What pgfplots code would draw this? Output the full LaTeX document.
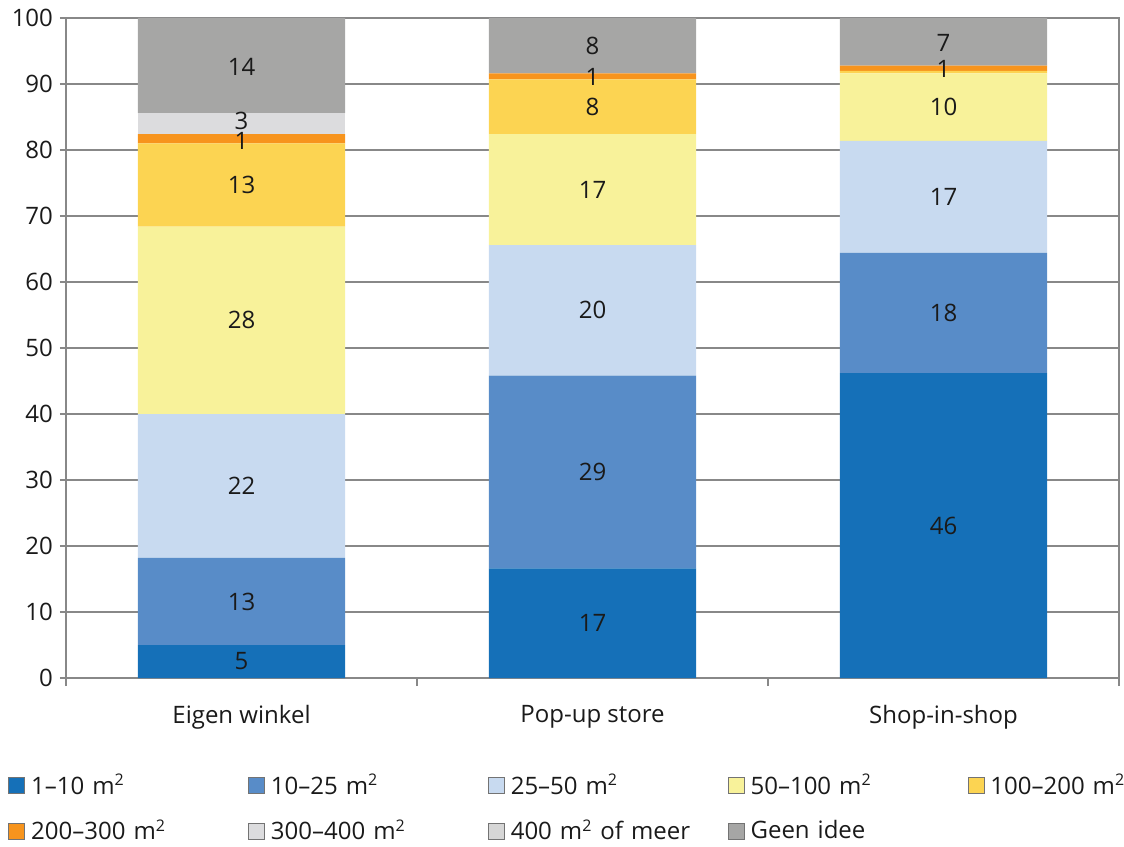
\documentclass[border=0pt]{standalone}
\usepackage{fontspec}
\setmainfont{Open Sans}
\usepackage{pgfplots}
\usepackage{pgfplotstable}
\pgfplotsset{compat=1.18}
\definecolor{cA}{HTML}{1570B8}
\definecolor{cB}{HTML}{588CC8}
\definecolor{cC}{HTML}{C8DAF0}
\definecolor{cD}{HTML}{F8F29A}
\definecolor{cE}{HTML}{FCD452}
\definecolor{cF}{HTML}{F7941D}
\definecolor{cG}{HTML}{DCDCDE}
\definecolor{cH}{HTML}{D6D6D6}
\definecolor{cI}{HTML}{A6A6A5}
\definecolor{axgray}{HTML}{888888}
\definecolor{txt}{HTML}{1A1A1A}
\newcommand{\sq}{\textsuperscript{\fontsize{8}{9}\selectfont 2}}
\pgfplotsset{mybar/.style={fill=#1, draw=none,
  legend image code/.code={\draw[fill=#1, draw=black!55, line width=0.4pt] (0pt,-4pt) rectangle (8pt,4pt);}}}
\pgfplotstableread{
x s1 s2 s3 s4 s5 s6 s7 s8 s9
0.5 5.0 13.2 21.8 28.4 12.6 1.4 3.2 0 14.4
1.5 16.6 29.2 19.8 16.8 8.3 0.9 0 0 8.4
2.5 46.2 18.2 17.0 10.2 0.4 0.8 0 0 7.2
}\datatable
\pgfplotstableread{
x y l
0.5 2.5 5
0.5 11.6 13
0.5 29.1 22
0.5 54.2 28
0.5 74.7 13
0.5 81.4 1
0.5 84.4 3
0.5 92.6 14
1.5 8.3 17
1.5 31.2 29
1.5 55.7 20
1.5 74.0 17
1.5 86.55 8
1.5 91.0 1
1.5 95.8 8
2.5 23.1 46
2.5 55.3 18
2.5 72.9 17
2.5 86.5 10
2.5 92.3 1
2.5 96.2 7
}\labeltable
\begin{document}
\begin{tikzpicture}[font=\fontsize{12}{14}\selectfont, text=txt]
\begin{axis}[name=ax, scale only axis, width=526.5pt, height=330pt,
  ybar stacked, bar width=0.59,
  xmin=0, xmax=3, ymin=0, ymax=100,
  axis line style={draw=axgray, line width=1pt},
  tick align=outside, tick pos=left,
  ytick={0,10,...,100}, major tick length=3pt,
  ytick style={draw=axgray, line width=1pt},
  ymajorgrids, grid style={draw=axgray, line width=0.75pt},
  xtick={0.5,1.5,2.5}, xticklabels={Eigen winkel, Pop-up store, Shop-in-shop},
  xtick style={draw=none},
  xticklabel style={yshift=-7pt},
  extra x ticks={0,1,2,3}, extra x tick labels={},
  extra x tick style={major tick length=4pt, xtick style={draw=axgray, line width=1pt}},
  /pgf/number format/assume math mode=true,
  legend style={at={(-0.0551,-0.139)}, anchor=north west, draw=none, fill=none,
    inner sep=0pt, legend columns=5, row sep=7pt,
    nodes={text width=105.5pt, align=left, inner xsep=3pt, inner ysep=2pt, text=txt},
    /tikz/every even column/.append style={column sep=0pt}},
]
\addplot[mybar=cA] table[x=x,y=s1]{\datatable};
\addlegendentry{1--10 m\sq}
\addplot[mybar=cB] table[x=x,y=s2]{\datatable};
\addlegendentry{10--25 m\sq}
\addplot[mybar=cC] table[x=x,y=s3]{\datatable};
\addlegendentry{25--50 m\sq}
\addplot[mybar=cD] table[x=x,y=s4]{\datatable};
\addlegendentry{50--100 m\sq}
\addplot[mybar=cE] table[x=x,y=s5]{\datatable};
\addlegendentry{100--200 m\sq}
\addplot[mybar=cF] table[x=x,y=s6]{\datatable};
\addlegendentry{200--300 m\sq}
\addplot[mybar=cG] table[x=x,y=s7]{\datatable};
\addlegendentry{300--400 m\sq}
\addplot[mybar=cH] table[x=x,y=s8]{\datatable};
\addlegendentry{400 m\sq{} of meer}
\addplot[mybar=cI] table[x=x,y=s9]{\datatable};
\addlegendentry{Geen idee}
\end{axis}
\begin{axis}[at={(ax.south west)}, anchor=south west, scale only axis,
  width=526.5pt, height=330pt, xmin=0, xmax=3, ymin=0, ymax=100,
  axis lines=none, ticks=none]
\addplot[draw=none, mark=none, nodes near coords, point meta=explicit symbolic,
  every node near coord/.style={anchor=center, text=txt, font=\fontsize{12}{14}\selectfont}]
  table[x=x, y=y, meta=l]{\labeltable};
\end{axis}
\pgfresetboundingbox
\path ([xshift=-33pt,yshift=-84pt]ax.south west) rectangle ([xshift=2.5pt,yshift=9pt]ax.north east);
\end{tikzpicture}
\end{document}
